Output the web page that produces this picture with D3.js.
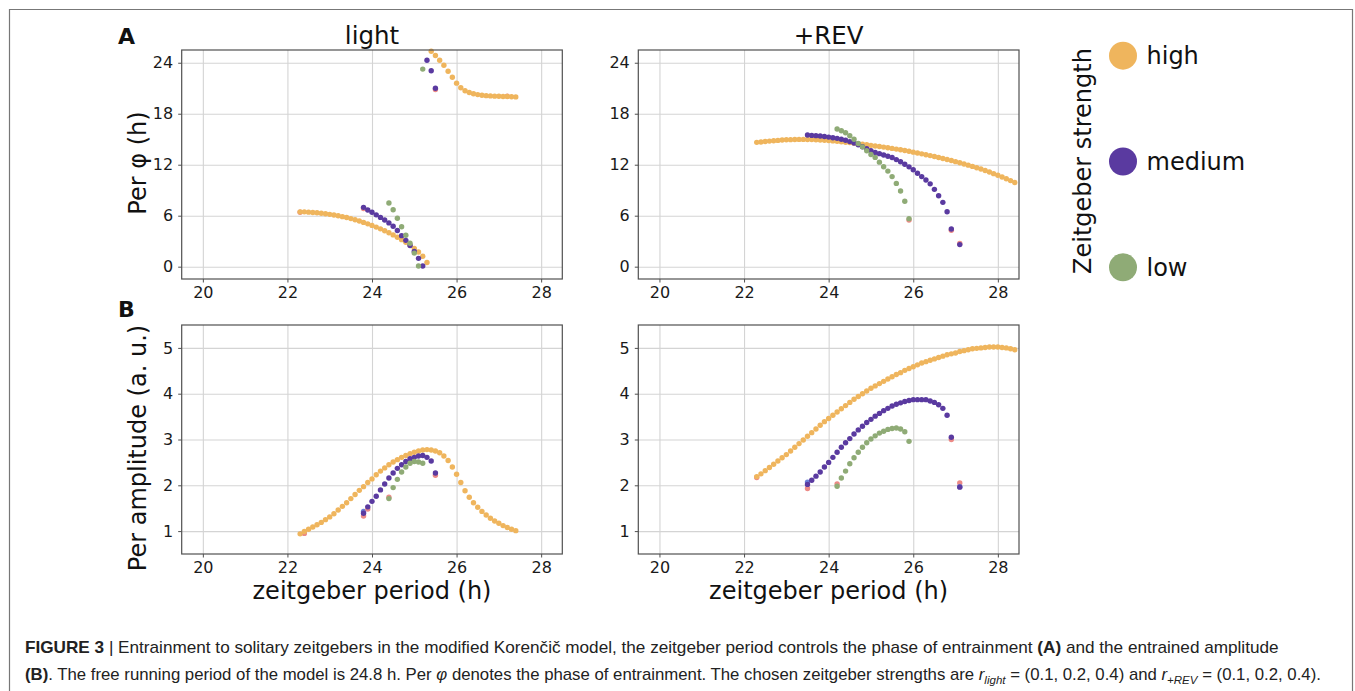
<!DOCTYPE html>
<html>
<head>
<meta charset="utf-8">
<script src="https://cdn.jsdelivr.net/npm/d3@7"></script>
<style>
  body { margin: 0; background: #fff; }
  svg { display: block; }
</style>
</head>
<body>
<div id="container"></div>
<script>
// zeitgeber periods (h) for each series
let periodsLightHigh = [22.3,22.4,22.5,22.6,22.7,22.8,22.9,23.0,23.1,23.2,23.3,23.4,23.5,23.6,23.7,23.8,23.9,24.0,24.1,24.2,24.3,24.4,24.5,24.6,24.7,24.8,24.9,25.0,25.1,25.2,25.3,25.4,25.5,25.6,25.7,25.8,25.9,26.0,26.1,26.2,26.3,26.4,26.5,26.6,26.7,26.8,26.9,27.0,27.1,27.2,27.3,27.4];
let periodsLightMed = [23.8,23.9,24.0,24.1,24.2,24.3,24.4,24.5,24.6,24.7,24.8,24.9,25.0,25.1,25.2,25.3,25.4,25.5];
let periodsLightLow = [24.4,24.5,24.6,24.7,24.8,24.9,25.0,25.1,25.2];
let periodsRevHigh = [22.3,22.4,22.5,22.6,22.7,22.8,22.9,23.0,23.1,23.2,23.3,23.4,23.5,23.6,23.7,23.8,23.9,24.0,24.1,24.2,24.3,24.4,24.5,24.6,24.7,24.8,24.9,25.0,25.1,25.2,25.3,25.4,25.5,25.6,25.7,25.8,25.9,26.0,26.1,26.2,26.3,26.4,26.5,26.6,26.7,26.8,26.9,27.0,27.1,27.2,27.3,27.4,27.5,27.6,27.7,27.8,27.9,28.0,28.1,28.2,28.3,28.4];
let periodsRevMed = [23.5,23.6,23.7,23.8,23.9,24.0,24.1,24.2,24.3,24.4,24.5,24.6,24.7,24.8,24.9,25.0,25.1,25.2,25.3,25.4,25.5,25.6,25.7,25.8,25.9,26.0,26.1,26.2,26.3,26.4,26.5,26.6,26.7,26.8,26.9,27.1];
let periodsRevLow = [24.2,24.3,24.4,24.5,24.6,24.7,24.8,24.9,25.0,25.1,25.2,25.3,25.4,25.5,25.6,25.7,25.8,25.9];

// (A) phase of entrainment, Per phi (h)
let phaseLightHigh = [6.45,6.45,6.42,6.38,6.34,6.29,6.23,6.16,6.08,5.99,5.89,5.78,5.66,5.52,5.37,5.21,5.04,4.86,4.66,4.45,4.23,3.99,3.74,3.47,3.18,2.87,2.53,2.15,1.72,1.22,0.5,25.35,24.85,24.3,23.7,23.0,22.3,21.6,21.05,20.7,20.5,20.35,20.25,20.18,20.13,20.1,20.07,20.05,20.03,20.02,20.0,19.98];
let phaseLightMed = [6.98,6.67,6.4,6.1,5.8,5.5,5.15,4.75,4.25,3.65,3.1,2.5,1.8,0.98,0.08,24.3,23.06,21.0];
let phaseLightLow = [7.5,6.7,5.7,4.7,3.7,2.75,1.6,0.08,23.25];
let phaseRevHigh = [14.63,14.68,14.73,14.78,14.82,14.86,14.9,14.93,14.95,14.97,14.98,14.98,14.97,14.96,14.94,14.91,14.88,14.84,14.8,14.75,14.7,14.65,14.6,14.54,14.48,14.42,14.35,14.28,14.21,14.14,14.07,13.99,13.92,13.84,13.76,13.67,13.58,13.48,13.38,13.28,13.18,13.07,12.96,12.85,12.73,12.61,12.49,12.36,12.23,12.09,11.95,11.8,11.65,11.49,11.32,11.14,10.95,10.76,10.56,10.35,10.13,9.9];
let phaseRevMed = [15.5,15.45,15.42,15.38,15.32,15.25,15.18,15.1,15.0,14.88,14.72,14.55,14.35,14.12,13.88,13.65,13.45,13.3,13.15,13.0,12.85,12.6,12.35,12.05,11.75,11.4,11.0,10.6,10.2,9.75,9.1,8.35,7.57,6.47,4.43,2.6];
let phaseRevLow = [16.2,16.0,15.76,15.4,15.0,14.5,14.1,13.65,13.2,12.86,12.3,11.76,11.25,10.6,9.8,8.9,7.7,5.65];

// (B) entrained amplitude (a. u.)
let ampLightHigh = [0.94,0.99,1.04,1.09,1.14,1.19,1.25,1.31,1.38,1.46,1.54,1.62,1.71,1.8,1.89,1.97,2.06,2.14,2.23,2.31,2.38,2.45,2.51,2.56,2.61,2.65,2.69,2.72,2.75,2.77,2.78,2.77,2.75,2.71,2.64,2.54,2.4,2.24,2.06,1.88,1.74,1.62,1.52,1.43,1.35,1.28,1.22,1.17,1.12,1.08,1.04,1.01];
let ampLightMed = [1.39,1.53,1.65,1.76,1.9,2.03,2.16,2.27,2.37,2.45,2.52,2.58,2.61,2.64,2.65,2.61,2.53,2.27];
let ampLightLow = [1.71,1.95,2.13,2.29,2.4,2.48,2.52,2.51,2.48];
let ampRevHigh = [2.19,2.25,2.32,2.39,2.46,2.53,2.6,2.67,2.75,2.83,2.91,2.99,3.07,3.15,3.23,3.31,3.39,3.46,3.53,3.6,3.67,3.74,3.81,3.88,3.94,4.0,4.06,4.12,4.17,4.22,4.27,4.32,4.37,4.42,4.46,4.51,4.55,4.59,4.63,4.67,4.7,4.73,4.76,4.79,4.82,4.85,4.87,4.89,4.92,4.94,4.96,4.98,4.99,5.0,5.01,5.02,5.02,5.02,5.01,5.0,4.98,4.96];
let ampRevMed = [2.02,2.11,2.2,2.29,2.4,2.5,2.61,2.72,2.83,2.93,3.02,3.12,3.21,3.29,3.37,3.44,3.51,3.57,3.63,3.68,3.73,3.77,3.8,3.83,3.85,3.87,3.87,3.87,3.87,3.84,3.81,3.76,3.68,3.53,3.05,1.96];
let ampRevLow = [1.98,2.16,2.31,2.47,2.6,2.72,2.83,2.93,3.01,3.08,3.14,3.18,3.22,3.24,3.25,3.23,3.17,2.96];

// faint points of the underlying runs that peek out from under the main dots
let ghostLightPhase = [[23.8,6.85,"red"],[25.5,20.85,"red"],[27.2,20.05,"red"],[22.3,6.4,"red"]];
let ghostRevPhase = [[25.9,5.5,"red"],[26.9,4.28,"red"],[27.1,2.72,"red"]];
let ghostLightAmp = [[23.8,1.33,"red"],[23.8,1.43,"blue"],[23.9,1.48,"red"],[25.5,2.22,"red"],[24.4,1.74,"red"],[22.4,0.95,"red"]];
let ghostRevAmp = [[23.5,1.93,"red"],[23.5,2.07,"blue"],[24.2,2.03,"red"],[26.9,3.0,"red"],[27.1,2.05,"red"],[27.1,1.97,"blue"],[22.3,2.17,"red"]];

let xTicks = [20,22,24,26,28];
let phaseTicks = [0,6,12,18,24];
let ampTicks = [1,2,3,4,5];
let strengths = ["high","medium","low"];
let colors = {high:"#efb55d", medium:"#5a3aa0", low:"#8fab76", red:"#ec8a86", blue:"#6a7fd8"};

let w = 1355;
let h = 691;
let font = "'DejaVu Sans', sans-serif";

let svg = d3.select("#container")
  .append("svg")
  .attr("width", w)
  .attr("height", h)
  .style("background", "#fff");

// outer frame of the figure box
svg.append("path")
  .attr("d", "M9.5," + (h + 5) + "V9.5H1352.5V" + (h + 5))
  .attr("fill", "none")
  .attr("stroke", "#777")
  .attr("stroke-width", 1.2);

let panels = [
  {left:181.7, right:562.3, top:50, bottom:279, yDomain:[-1.45,25.5], yTicks:phaseTicks, ghosts:ghostLightPhase,
   series:[[periodsLightHigh,phaseLightHigh,"high"],[periodsLightMed,phaseLightMed,"medium"],[periodsLightLow,phaseLightLow,"low"]]},
  {left:638.3, right:1019, top:50, bottom:279, yDomain:[-1.45,25.5], yTicks:phaseTicks, ghosts:ghostRevPhase,
   series:[[periodsRevHigh,phaseRevHigh,"high"],[periodsRevMed,phaseRevMed,"medium"],[periodsRevLow,phaseRevLow,"low"]]},
  {left:181.7, right:562.3, top:325, bottom:554, yDomain:[0.5,5.5], yTicks:ampTicks, ghosts:ghostLightAmp,
   series:[[periodsLightHigh,ampLightHigh,"high"],[periodsLightMed,ampLightMed,"medium"],[periodsLightLow,ampLightLow,"low"]]},
  {left:638.3, right:1019, top:325, bottom:554, yDomain:[0.5,5.5], yTicks:ampTicks, ghosts:ghostRevAmp,
   series:[[periodsRevHigh,ampRevHigh,"high"],[periodsRevMed,ampRevMed,"medium"],[periodsRevLow,ampRevLow,"low"]]}
];

panels.forEach(function(p){
  let x = d3.scaleLinear().domain([19.5,28.5]).range([p.left,p.right]);
  let y = d3.scaleLinear().domain(p.yDomain).range([p.bottom,p.top]);
  let g = svg.append("g");

  // grid
  let gridX = g.append("g").attr("transform","translate(0,"+p.bottom+")")
    .call(d3.axisBottom(x).tickValues(xTicks).tickSize(-(p.bottom-p.top)).tickFormat(""));
  let gridY = g.append("g").attr("transform","translate("+p.left+",0)")
    .call(d3.axisLeft(y).tickValues(p.yTicks).tickSize(-(p.right-p.left)).tickFormat(""));
  [gridX, gridY].forEach(function(gr){
    gr.select(".domain").remove();
    gr.selectAll("line").attr("stroke","#d4d4d4").attr("stroke-width",1.1);
  });

  // dots
  let dots = g.append("g");
  dots.selectAll(".ghost").data(p.ghosts).enter().append("circle")
    .attr("class","ghost")
    .attr("cx", d => x(d[0]))
    .attr("cy", d => y(d[1]))
    .attr("r", 2.7)
    .attr("fill", d => colors[d[2]]);
  p.series.forEach(function(s){
    let pts = s[0].map((v,i) => [v, s[1][i]]);
    dots.selectAll(".dot-"+s[2]).data(pts).enter().append("circle")
      .attr("class","dot-"+s[2])
      .attr("cx", d => x(d[0]))
      .attr("cy", d => y(d[1]))
      .attr("r", 2.7)
      .attr("fill", colors[s[2]]);
  });

  // frame
  g.append("rect")
    .attr("x",p.left).attr("y",p.top)
    .attr("width",p.right-p.left).attr("height",p.bottom-p.top)
    .attr("fill","none").attr("stroke","#505050").attr("stroke-width",1.2);

  // axes
  let xAxisGroup = g.append("g").attr("transform","translate(0,"+p.bottom+")")
    .call(d3.axisBottom(x).tickValues(xTicks).tickSize(3.5).tickPadding(4).tickFormat(d3.format("d")));
  let yAxisGroup = g.append("g").attr("transform","translate("+p.left+",0)")
    .call(d3.axisLeft(y).tickValues(p.yTicks).tickSize(3.5).tickPadding(5).tickFormat(d3.format("d")));
  [xAxisGroup, yAxisGroup].forEach(function(ax){
    ax.select(".domain").remove();
    ax.selectAll("line").attr("stroke","#505050").attr("stroke-width",1);
    ax.selectAll("text").attr("font-family",font).attr("font-size",16).attr("fill","#1a1a1a");
  });
});

// panel titles and letters
function label(txt, x, y, size, opts){
  let t = svg.append("text").text(txt)
    .attr("x",x).attr("y",y)
    .attr("font-family",font)
    .attr("font-size",size)
    .attr("fill","#111");
  if (opts && opts.anchor) t.attr("text-anchor",opts.anchor);
  if (opts && opts.bold) t.attr("font-weight","bold");
  if (opts && opts.rotate) t.attr("transform","rotate(-90,"+x+","+y+")");
  return t;
}
label("light", 372, 44, 24.5, {anchor:"middle"});
label("+REV", 828.6, 44, 24.5, {anchor:"middle"});
label("A", 118, 44, 22, {bold:true});
label("B", 118, 317, 22, {bold:true});
label("Per \u03c6 (h)", 146, 163, 24, {anchor:"middle", rotate:true});
label("Per amplitude (a. u.)", 146, 448, 24, {anchor:"middle", rotate:true});
label("zeitgeber period (h)", 372, 599, 24, {anchor:"middle"});
label("zeitgeber period (h)", 828.6, 599, 24, {anchor:"middle"});

// legend
label("Zeitgeber strength", 1090.5, 161, 24, {anchor:"middle", rotate:true});
let legendY = d3.scalePoint().domain(strengths).range([55.7,267.3]);
let legend = svg.append("g");
legend.selectAll("circle").data(strengths).enter().append("circle")
  .attr("cx",1123)
  .attr("cy",d => legendY(d))
  .attr("r",14)
  .attr("fill",d => colors[d]);
legend.selectAll("text").data(strengths).enter().append("text")
  .attr("x",1146.5)
  .attr("y",d => legendY(d) + 8.5)
  .attr("font-family",font)
  .attr("font-size",24)
  .attr("fill","#111")
  .text(d => d);

// caption
let capFont = "'Liberation Sans Narrow', 'Liberation Sans', Arial, sans-serif";
function caption(parts, y, targetWidth){
  let t = svg.append("text")
    .attr("x",0).attr("y",0)
    .attr("font-family",capFont)
    .attr("font-size",16)
    .attr("fill","#222");
  parts.forEach(function(pt){
    let s = t.append("tspan").text(pt.t);
    if (pt.b) s.attr("font-weight","bold");
    if (pt.i) s.attr("font-style","italic");
    if (pt.sub) s.attr("font-size",11).attr("dy",4);
    if (pt.up) s.attr("dy",-4);
  });
  let natural = t.node().getComputedTextLength();
  t.attr("transform","translate(25,"+y+") scale("+(targetWidth/natural)+",1)");
}
caption([
  {t:"FIGURE 3", b:true},
  {t:" | Entrainment to solitary zeitgebers in the modified Koren\u010di\u010d model, the zeitgeber period controls the phase of entrainment "},
  {t:"(A)", b:true},
  {t:" and the entrained amplitude"}
], 653, 1255);
caption([
  {t:"(B)", b:true},
  {t:". The free running period of the model is 24.8 h. Per "},
  {t:"\u03c6", i:true},
  {t:" denotes the phase of entrainment. The chosen zeitgeber strengths are "},
  {t:"r", i:true},
  {t:"light", i:true, sub:true},
  {t:" = (0.1, 0.2, 0.4) and ", up:true},
  {t:"r", i:true},
  {t:"+REV", i:true, sub:true},
  {t:" = (0.1, 0.2, 0.4).", up:true}
], 680, 1297);
</script>
</body>
</html>
